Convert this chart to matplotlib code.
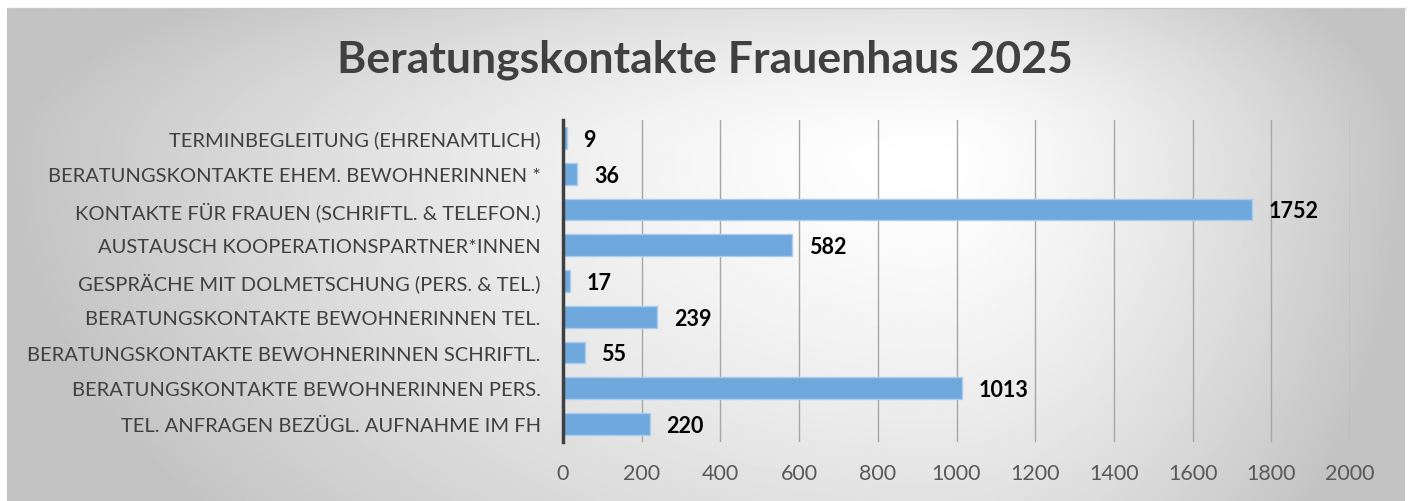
import numpy as np
from matplotlib import pyplot as plt

plt.rcParams['font.family'] = ['Lato', 'DejaVu Sans']

categories = [
    "TEL. ANFRAGEN BEZÜGL. AUFNAHME IM FH",
    "BERATUNGSKONTAKTE BEWOHNERINNEN PERS.",
    "BERATUNGSKONTAKTE BEWOHNERINNEN SCHRIFTL.",
    "BERATUNGSKONTAKTE BEWOHNERINNEN TEL.",
    "GESPRÄCHE MIT DOLMETSCHUNG (PERS. & TEL.)",
    "AUSTAUSCH KOOPERATIONSPARTNER*INNEN",
    "KONTAKTE FÜR FRAUEN (SCHRIFTL. & TELEFON.)",
    "BERATUNGSKONTAKTE EHEM. BEWOHNERINNEN *",
    "TERMINBEGLEITUNG (EHRENAMTLICH)",
]
values = [220, 1013, 55, 239, 17, 582, 1752, 36, 9]
xticks = list(range(0, 2001, 200))
title = "Beratungskontakte Frauenhaus 2025"

W, H = 1408, 502
fig = plt.figure(figsize=(W / 100, H / 100), dpi=100)
fig.patch.set_facecolor('white')

# gradient background box (light centre right of middle, grey towards the edges)
bg = fig.add_axes([7 / W, 0, (1405 - 7) / W, (H - 9) / H], zorder=0)
gx, gy = np.meshgrid(np.linspace(0, 1, 700), np.linspace(0, 1, 250))
cx, cy = 0.66, 0.3
dx = np.where(gx < cx, (cx - gx) / cx, (gx - cx) / (1 - cx))
dy = np.where(gy < cy, (cy - gy) / cy, (gy - cy) / (1 - cy))
r = np.clip(np.sqrt(dx ** 2 + 0.35 * dy ** 2), 0, 1)
shade = 1.0 - 0.235 * r ** 1.4
bg.imshow(shade, cmap='gray', vmin=0, vmax=1, aspect='auto', extent=[0, 1, 0, 1])
bg.set_xticks([])
bg.set_yticks([])
for s in ['left', 'right', 'bottom']:
    bg.spines[s].set_visible(False)
bg.spines['top'].set_color('#c8c8c8')
bg.spines['top'].set_linewidth(1)

ax = fig.add_axes([563 / W, 59 / H, 787 / W, 322 / H], zorder=1)
ax.patch.set_alpha(0)

y = np.arange(len(categories))
ax.barh(y, values, height=0.61, color='#6fa8dc', edgecolor='#a9cdee', linewidth=1, zorder=3)

for yi, v in zip(y, values):
    ax.annotate(str(v), (v, yi), xytext=(12, -1), textcoords='offset points',
                va='center', ha='left', fontsize=15.5, fontweight='bold', color='black')

ax.set_xlim(0, 2000)
ax.set_ylim(-0.5, len(categories) - 0.5)
ax.set_xticks(xticks)
ax.set_xticklabels([str(t) for t in xticks], fontsize=15.5, color='#595959')
ax.set_yticks(y)
ax.set_yticklabels(categories, fontsize=14.5, color='#404040')
ax.tick_params(axis='both', length=0)
ax.tick_params(axis='y', pad=16)
ax.tick_params(axis='x', pad=15)
ax.grid(axis='x', color='#a6a6a6', linewidth=1, zorder=1)
ax.set_axisbelow(True)

for s in ['top', 'right', 'bottom']:
    ax.spines[s].set_visible(False)
ax.spines['left'].set_color('#404040')
ax.spines['left'].set_linewidth(2.5)
ax.spines['left'].set_zorder(4)

fig.text(0.501, 1 - 60 / H, title, ha='center', va='center', fontsize=32,
         fontweight='bold', color='#404040')

fig.savefig('out.png', dpi=100)
